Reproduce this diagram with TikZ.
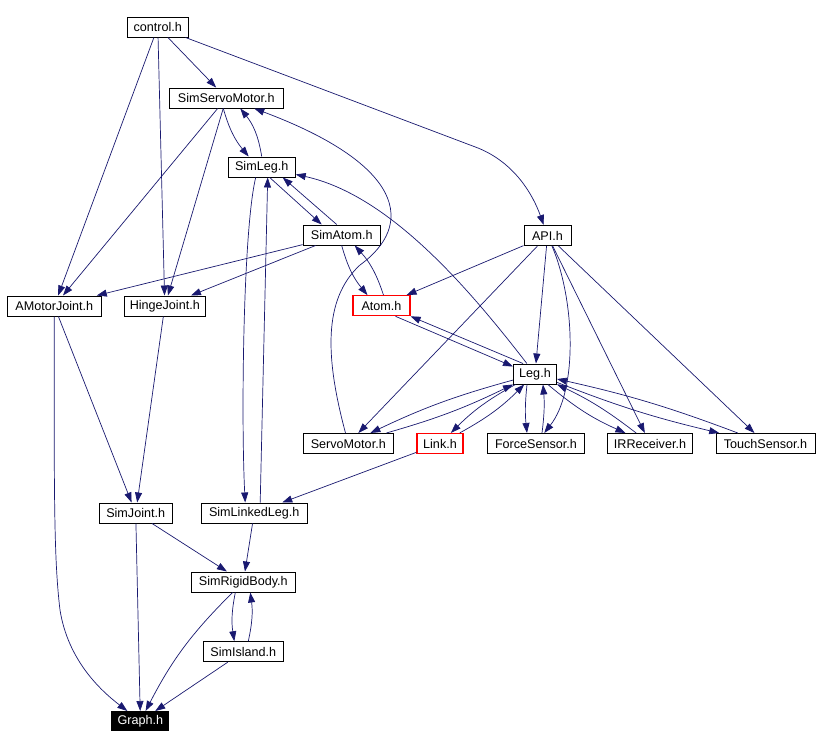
\documentclass[tikz,border=0pt]{standalone}
\usepackage{fontspec}
\setmainfont{Liberation Sans}
\usetikzlibrary{arrows.meta}

\definecolor{depblue}{RGB}{25,25,112}

\tikzset{
  hfile/.style={draw=black, fill=white, line width=1pt, inner sep=0pt,
    minimum height=20pt, font=\fontsize{12.6}{14}\selectfont},
  redfile/.style={hfile, draw=red, line width=1.2pt},
  rootfile/.style={hfile, fill=black, text=white, minimum height=19pt},
  dep/.style={draw=depblue, line width=0.7pt,
    -{Triangle[length=10pt,width=7pt]}}
}

\begin{document}
\begin{tikzpicture}[x=1pt, y=-1pt]
  \useasboundingbox (0,0) rectangle (820,748);
  \fill[white] (0,0) rectangle (820,748);

  \foreach \n/\x/\y/\w/\t in {
    control/157.8/27/61/control.h,
    simservo/226.3/98/114/SimServoMotor.h,
    simleg/261.7/167/67/SimLeg.h,
    simatom/341.7/235/77/SimAtom.h,
    api/547.5/235.5/47/API.h,
    amotor/54.3/306/94/AMotorJoint.h,
    hinge/164.8/306/81/HingeJoint.h,
    leg/535/374/43/Leg.h,
    servo/348.3/443.5/90/ServoMotor.h,
    force/536/443.5/97/ForceSensor.h,
    irrecv/650/443.5/85/IRReceiver.h,
    touch/765.5/443.5/99/TouchSensor.h,
    simjoint/135.7/513/73/SimJoint.h,
    simlinked/254.2/513/106/SimLinkedLeg.h,
    rigid/243.3/582/104/SimRigidBody.h,
    island/243.3/651.7/80/SimIsland.h} {
    \node[hfile, minimum width=\w] (\n) at (\x,\y) {\t};
  }
  \node[redfile, minimum width=57] (atom) at (381.5,305.7) {Atom.h};
  \node[redfile, minimum width=46] (link) at (440,443.5) {Link.h};
  \node[rootfile, minimum width=57] (graph) at (140.4,721) {Graph.h};

  \foreach \a/\b in {control/simservo, control/amotor, control/hinge,
    simservo/amotor, simservo/hinge, simatom/amotor, simatom/hinge,
    api/atom, api/servo, api/leg, api/irrecv, api/touch,
    link/simlinked, amotor/simjoint, hinge/simjoint, simjoint/graph,
    simjoint/rigid, simlinked/rigid, island/graph} {
    \draw[dep] (\a) -- (\b);
  }

  \draw[dep] (control) -- (478,148) .. controls (515,163) and (533,195) .. (api);
  \draw[dep] (api) .. controls (575,300) and (578,390) .. (force);

  \draw[dep] ([xshift=-3]simservo.south) to[bend right=12] ([xshift=-13]simleg.north);
  \draw[dep] (simleg.north) to[bend right=15] ([xshift=14]simservo.south);
  \draw[dep] ([xshift=8]simleg.south) -- ([xshift=-20]simatom.north);
  \draw[dep] ([xshift=-5]simatom.north) -- ([xshift=21]simleg.south);
  \draw[dep] ([xshift=-6]simleg.south) .. controls (243,230) and (241,420) .. ([xshift=-9]simlinked.north);
  \draw[dep] ([xshift=6]simlinked.north) -- ([xshift=6]simleg.south);
  \draw[dep] (leg) .. controls (470,290) and (390,195) .. (simleg);
  \draw[dep] (servo) .. controls (326,360) and (322,300) .. (360,265)
    .. controls (415,225) and (405,165) .. (simservo);

  \draw[dep] (simatom.south) to[bend right=12] ([xshift=-14]atom.north);
  \draw[dep] ([xshift=2]atom.north) to[bend right=12] ([xshift=13]simatom.south);
  \draw[dep] ([xshift=14]atom.south) -- ([yshift=-3]leg.north west);
  \draw[dep] ([xshift=-12]leg.north) -- (atom.south east);

  \draw[dep] (leg) to[bend right=5] (servo);
  \draw[dep] (servo) to[bend right=5] (leg);
  \draw[dep] (leg) to[bend right=8] (link);
  \draw[dep] (link) to[bend right=8] (leg);
  \draw[dep] ([xshift=-8]leg.south) to[bend right=6] ([xshift=-9]force.north);
  \draw[dep] ([xshift=6]force.north) to[bend right=6] ([xshift=8]leg.south);
  \draw[dep] (leg) to[bend right=8] (irrecv);
  \draw[dep] (irrecv) to[bend right=6] (leg);
  \draw[dep] (leg) to[bend right=4] (touch);
  \draw[dep] (touch) to[bend right=4] (leg);

  \draw[dep] (amotor) .. controls (54,500) and (54,560) .. (60,610)
    .. controls (68,660) and (100,690) .. (graph);
  \draw[dep] ([xshift=-8]rigid.south) to[bend right=10] ([xshift=-9]island.north);
  \draw[dep] ([xshift=5]island.north) to[bend right=10] ([xshift=7]rigid.south);
  \draw[dep] (rigid) to[bend right=9] (graph);
\end{tikzpicture}
\end{document}
